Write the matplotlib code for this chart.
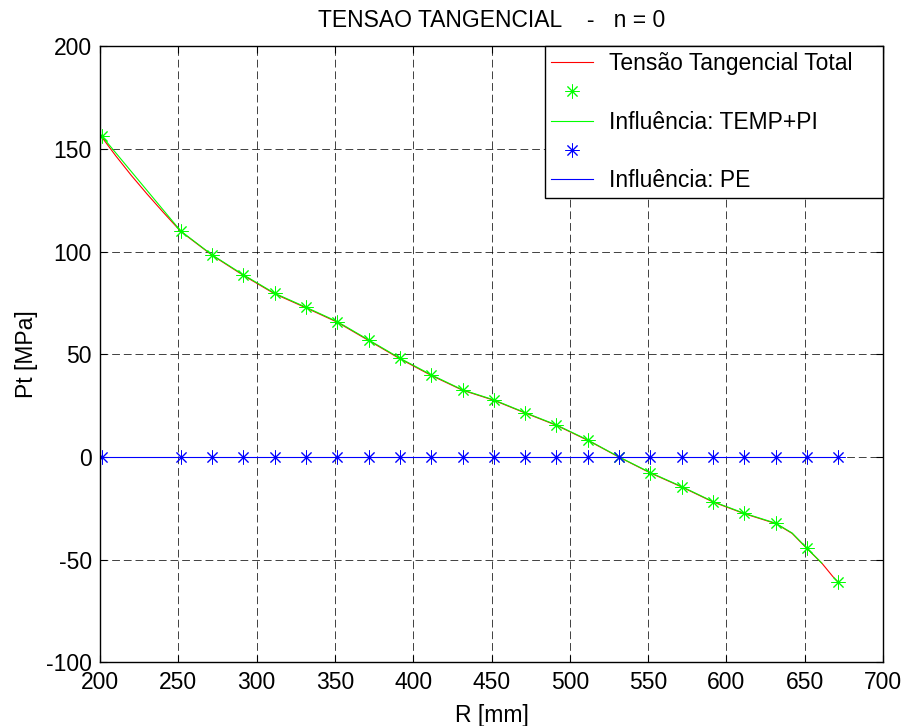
import matplotlib
matplotlib.use("Agg")
import matplotlib.pyplot as plt

plt.rcParams['font.family'] = ['Liberation Sans', 'DejaVu Sans']
plt.rcParams['axes.unicode_minus'] = False

# Radius positions of the sampled points [mm]
r_pts = [201, 251.5, 271.5, 291.5, 311.5, 331.5, 351.5, 371.5, 391.5, 411.5,
         431.5, 451.5, 471.5, 491.5, 511.5, 531.5, 551.5, 571.5, 591.5, 611.5,
         631.5, 651.5, 671.5]
# Tangential stress due to TEMP+PI at sampled points [MPa]
st_temp_pts = [156.3, 110.0, 98.4, 88.7, 79.7, 72.9, 65.9, 57.0, 48.1, 40.0,
               32.7, 27.8, 21.6, 15.6, 8.3, 0.0, -7.6, -14.4, -21.7, -27.4,
               -32.2, -44.4, -61.0]
# Tangential stress due to PE at sampled points [MPa]
st_pe_pts = [0.0] * 23

# Green continuous line (TEMP+PI)
r_temp_line = [201, 251.5, 271.5, 291.5, 311.5, 331.5, 351.5, 371.5, 391.5, 411.5,
               431.5, 451.5, 471.5, 491.5, 511.5, 531.5, 551.5, 571.5, 591.5, 611.5,
               631.5, 642, 651.5, 661]
st_temp_line = [156.3, 110.0, 98.4, 88.7, 79.7, 72.9, 65.9, 57.0, 48.1, 40.0,
                32.7, 27.8, 21.6, 15.6, 8.3, 0.0, -7.6, -14.4, -21.7, -27.4,
                -32.2, -37.0, -44.4, -51.7]

# Red continuous line (total)
r_total = [201, 210, 220, 230, 240, 251.5, 271.5, 291.5, 311.5, 331.5, 351.5,
           371.5, 391.5, 411.5, 431.5, 451.5, 471.5, 491.5, 511.5, 531.5, 551.5,
           571.5, 591.5, 611.5, 631.5, 642, 651.5, 661, 668, 671.5]
st_total = [155.8, 146.6, 137.0, 128.0, 119.4, 109.8, 98.2, 88.4, 79.4, 72.6,
            65.6, 56.7, 47.8, 39.7, 32.5, 27.6, 21.4, 15.4, 8.1, -0.1, -7.8,
            -14.6, -21.9, -27.6, -32.4, -37.2, -44.6, -51.7, -58.2, -61.0]

x_ticks = [200, 250, 300, 350, 400, 450, 500, 550, 600, 650, 700]
y_ticks = [-100, -50, 0, 50, 100, 150, 200]

FS = 16.5

fig = plt.figure(figsize=(9.07, 7.26), dpi=100)
ax = fig.add_axes([0.1103, 0.0875, 0.8632, 0.8491])

ast = (8, 2, 0)
h1, = ax.plot(r_total, st_total, color=(1, 0, 0), lw=0.8)
h2, = ax.plot(r_pts, st_temp_pts, linestyle='none', marker=ast, ms=10,
              mew=0.7, color=(0, 1, 0))
h3, = ax.plot(r_temp_line, st_temp_line, color=(0, 1, 0), lw=0.8)
h4, = ax.plot(r_pts, st_pe_pts, linestyle='none', marker=ast, ms=10,
              mew=0.7, color=(0, 0, 1))
h5, = ax.plot(r_pts, st_pe_pts, color=(0, 0, 1), lw=0.8)

ax.set_xlim(200, 700)
ax.set_ylim(-100, 200)
ax.set_xticks(x_ticks)
ax.set_yticks(y_ticks)
ax.tick_params(direction='in', top=True, right=True, length=5, width=0.8,
               labelsize=FS, pad=6)
ax.grid(True, color='k', linestyle=(0, (8, 4)), linewidth=0.7, alpha=0.75)
ax.set_axisbelow(True)
for s in ax.spines.values():
    s.set_linewidth(1.0)
    s.set_color('k')

ax.set_xlabel('R [mm]', fontsize=FS, labelpad=7)
ax.set_ylabel('Pt [MPa]', fontsize=FS, labelpad=6)
ax.set_title('TENSAO TANGENCIAL    -   n = 0', fontsize=FS, pad=14)

leg = ax.legend([h1, h2, h3, h4, h5],
                ['Tensão Tangencial Total', '', 'Influência: TEMP+PI', '',
                 'Influência: PE'],
                loc='upper right', bbox_to_anchor=(0.568, 0.0, 0.432, 1.0),
                mode='expand', fontsize=FS, numpoints=1,
                handlelength=1.85, handletextpad=0.7, borderpad=0.27,
                labelspacing=0.27, borderaxespad=0.0, fancybox=False,
                framealpha=1.0, edgecolor='k')
leg.get_frame().set_linewidth(1.0)

fig.savefig('out.png', dpi=100)
